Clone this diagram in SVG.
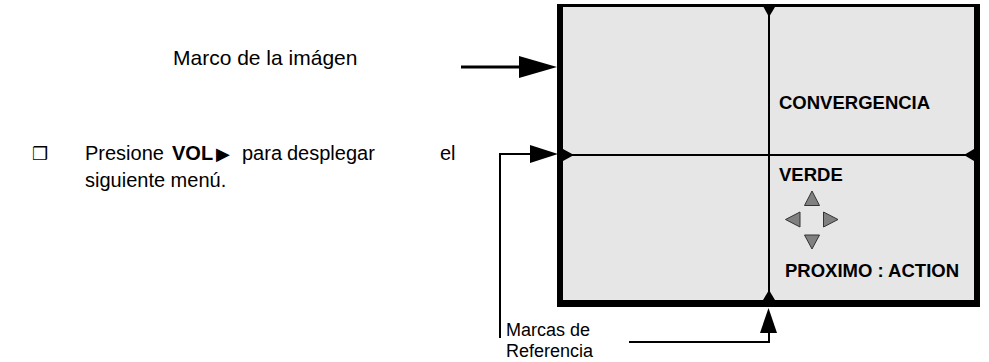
<svg xmlns="http://www.w3.org/2000/svg" width="989" height="362" viewBox="0 0 989 362">
<style>
  .t { font-family: "Liberation Sans", Arial, sans-serif; fill: #000; }
  .b { font-weight: bold; }
  .line { stroke: #000; fill: none; }
  .mark { fill: #000; }
  .nav { fill: #808080; stroke: #333; stroke-width: 1; }
</style>
<rect width="989" height="362" fill="#fff"/>
<g id="frame">
  <rect x="557" y="4" width="423" height="303" fill="#000"/>
  <rect x="563" y="7" width="411" height="293" fill="#e6e6e6"/>
  <line class="line" x1="769" y1="7" x2="769" y2="300" stroke-width="2"/>
  <line class="line" x1="563" y1="155" x2="974" y2="155" stroke-width="2"/>
  <polygon class="mark" points="763.5,7 775,7 769,17"/>
  <polygon class="mark" points="763,300 775,300 769,290"/>
  <polygon class="mark" points="563,149 563,161 574,155"/>
  <polygon class="mark" points="974,149 974,161 964,155"/>
  <text class="t b" x="779" y="109" font-size="18.5">CONVERGENCIA</text>
  <text class="t b" x="779" y="181" font-size="18.5">VERDE</text>
  <text class="t b" x="785" y="277" font-size="18.5">PROXIMO : ACTION</text>
  <polygon class="nav" points="812,191 804.5,205.5 819.5,205.5"/>
  <polygon class="nav" points="785.5,219.5 800,212 800,227"/>
  <polygon class="nav" points="838,219.5 823.5,212 823.5,227"/>
  <polygon class="nav" points="812,249 804.5,235 819.5,235"/>
</g>
<g id="label-marco">
  <text class="t" x="173" y="65" font-size="21">Marco de la imágen</text>
</g>
<g id="instruction">
  <text class="t" x="32" y="160" font-size="18" font-family="DejaVu Sans, sans-serif">❒</text>
  <text class="t" y="160" font-size="20"><tspan x="85">Presione</tspan><tspan x="172" class="b">VOL</tspan><tspan x="216" font-family="DejaVu Sans, sans-serif" font-size="18">▶</tspan><tspan x="242">para</tspan><tspan x="287">desplegar</tspan><tspan x="440">el</tspan></text>
  <text class="t" x="85" y="187" font-size="20">siguiente menú.</text>
</g>
<g id="label-marcas">
  <text class="t" x="506" y="336" font-size="18">Marcas de</text>
  <text class="t" x="506" y="357" font-size="18">Referencia</text>
</g>
<g id="connectors">
  <line class="line" x1="461" y1="67" x2="522" y2="67" stroke-width="3"/>
  <polygon class="mark" points="519,56 519,78 557,67"/>
  <polyline class="line" points="500,338 500,154 532,154" stroke-width="2"/>
  <polygon class="mark" points="530,145 530,163 558,154"/>
  <polyline class="line" points="629,342 769,342 769,330" stroke-width="2"/>
  <polygon class="mark" points="760,333 777,333 768.5,308"/>
</g>
</svg>
